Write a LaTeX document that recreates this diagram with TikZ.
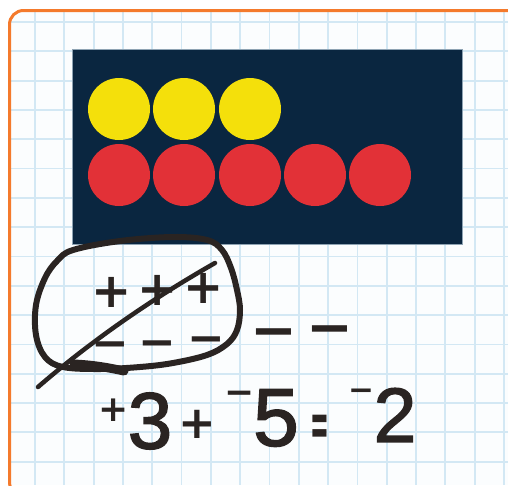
\documentclass[tikz,border=0pt]{standalone}
\usepackage{fontspec}
\setmainfont{Liberation Sans}
\newfontfamily\signfont{DejaVu Sans}
\newfontfamily\digitfont{Liberation Sans}[FakeBold=1.8]
\definecolor{paper}{HTML}{FBFDFE}
\definecolor{gridc}{HTML}{D3E8F4}
\definecolor{frame}{HTML}{F47A2C}
\definecolor{board}{HTML}{0A2640}
\definecolor{boardedge}{HTML}{8EA3B3}
\definecolor{yel}{HTML}{F4E00B}
\definecolor{redc}{HTML}{E23137}
\definecolor{inkc}{HTML}{2A2422}
\begin{document}
\begin{tikzpicture}[x=1pt,y=-1pt,
  ink/.style={draw=inkc, line cap=round, line join=round},
  sgn/.style={text=inkc, inner sep=0pt, outer sep=0pt, anchor=center,
    font=\signfont\bfseries\fontsize{#1}{#1}\selectfont},
  dig/.style={text=inkc, inner sep=0pt, outer sep=0pt, anchor=center,
    font=\digitfont\fontsize{#1}{#1}\selectfont},
  gridline/.style={draw=gridc, line width=1.8pt},
]
\useasboundingbox (0,0) rectangle (508,485);
\fill[white] (0,0) rectangle (508,485);
\begin{scope}
  \clip[rounded corners=14pt] (9.5,10.5) rectangle (540,496);
  \fill[paper] (0,0) rectangle (508,485);
  \foreach \i in {0,...,16} {\draw[gridline] ({35+29.31*\i},0) -- ({35+29.31*\i},485);}
  \foreach \j in {0,...,15} {\draw[gridline] (0,{22+29.31*\j}) -- (508,{22+29.31*\j});}
\end{scope}
\draw[frame, line width=3pt, rounded corners=14pt] (9.5,10.5) rectangle (540,496);

% ten-frame board
\draw[fill=board, draw=boardedge, line width=1pt] (72,49) rectangle (462,244);
\foreach \x in {119,184,250} {\fill[yel] (\x,109) circle[radius=31];}
\foreach \x in {119,184,250,315,380} {\fill[redc] (\x,175) circle[radius=31];}

% loop around the zero pairs
\draw[ink, line width=6pt] plot[smooth cycle, tension=0.6] coordinates {
  (73,250) (120,241) (173,237) (207,240) (222,250) (231,268) (237,290)
  (240,310) (237,330) (227,344) (207,355) (173,363) (140,367) (100,369)
  (63,367) (45,357) (36,335) (36,305) (45,278) (57,261)};
\draw[ink, line width=9pt] (74,364) .. controls (95,365) and (110,368) .. (124,371);

% counters
\node[sgn=48] (p1) at (112,307.1) {\smash{+}};
\node[sgn=48] (p2) at (158,305.1) {\smash{+}};
\node[sgn=48] (p3) at (204,303.1) {\smash{+}};
\node[sgn=45] (m1) at (110,358) {\smash{−}};
\node[sgn=45] (m2) at (157,357) {\smash{−}};
\node[sgn=45] (m3) at (206,353) {\smash{−}};
\node[sgn=56] (m4) at (274,349.5) {\smash{−}};
\node[sgn=56] (m5) at (330,346.5) {\smash{−}};

% strike-through
\draw[ink, line width=4.5pt] (38,387) .. controls (90,342) and (150,300) .. (215,263);

% equation
\node[sgn=36] (sp) at (113.5,421.5) {\smash{+}};
\node[dig=80] (d3) at (150,421) {3};
\node[sgn=45] (pl) at (197,438.1) {\smash{+}};
\node[sgn=36] (sm1) at (240,404.5) {\smash{−}};
\node[dig=82] (d5) at (276,418) {5};
\node[sgn=50] (eq) at (320,446.4) {\smash{\scalebox{0.45}[1.3]{=}}};
\node[sgn=31] (sm2) at (361,400.5) {\smash{−}};
\node[dig=77] (d2) at (395,415) {2};
\end{tikzpicture}
\end{document}
